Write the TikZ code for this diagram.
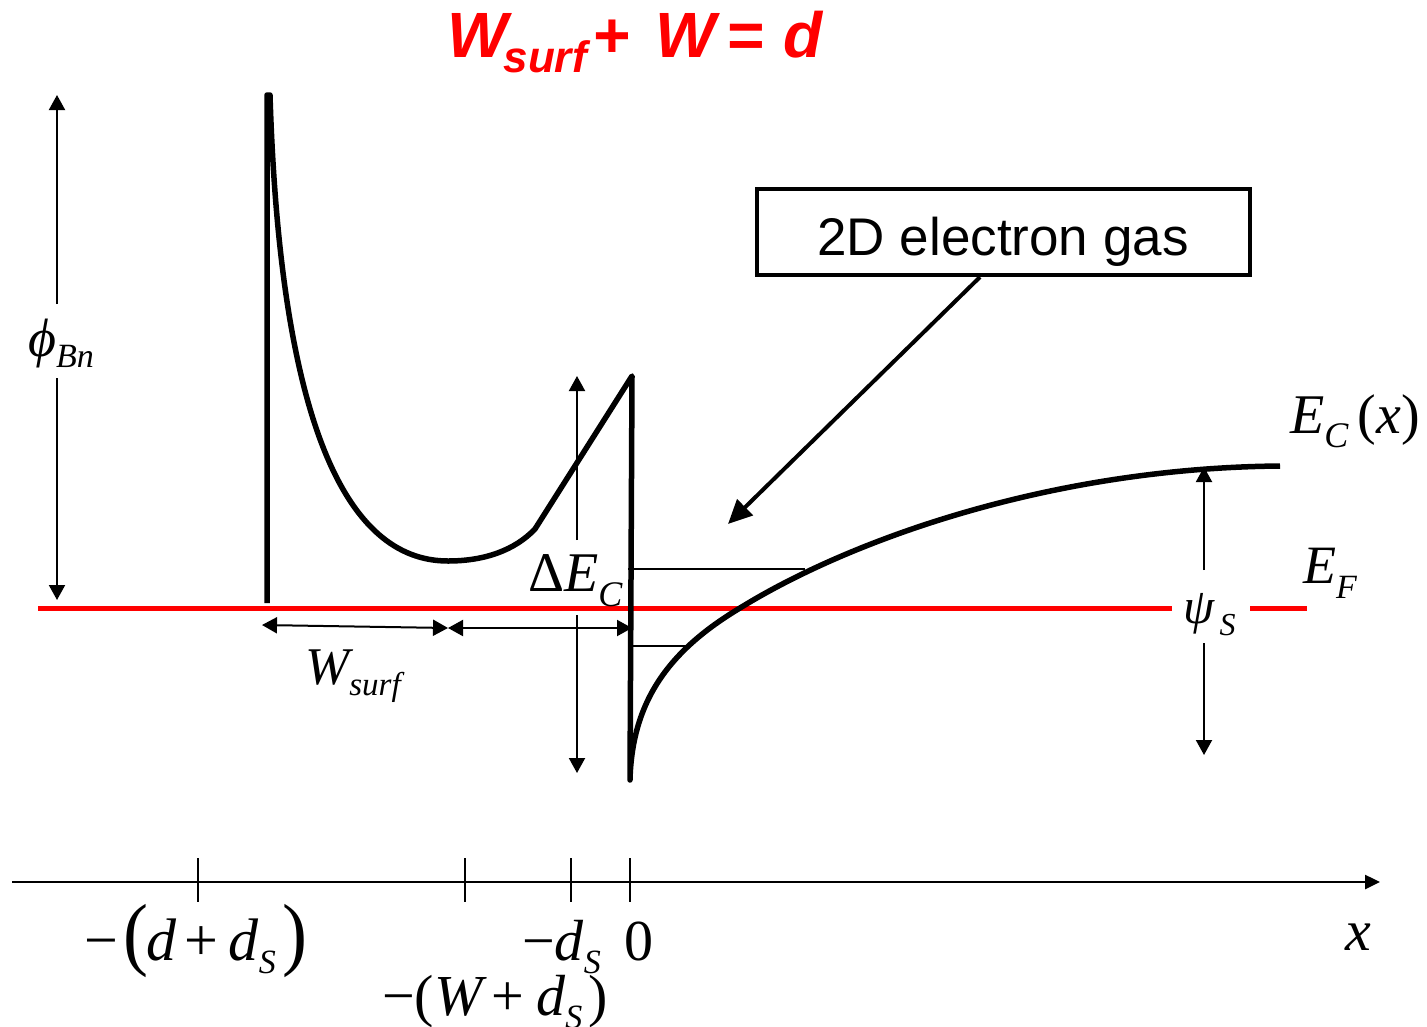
\documentclass[tikz,border=0pt]{standalone}
\usepackage{fontspec}
\setmainfont{Liberation Serif}
\newfontfamily\arial{Liberation Sans}
\usetikzlibrary{arrows.meta}
\newcommand\fs[1]{\fontsize{#1}{#1}\selectfont}
\begin{document}
\begin{tikzpicture}[x=1pt,y=-1pt,
  band/.style={line width=5.5pt, line join=round},
  thinline/.style={line width=2pt},
  dimarrow/.style={line width=2pt, -{Triangle[length=15pt,width=16pt]}},
  ddimarrow/.style={line width=2pt, {Triangle[length=15pt,width=16pt]}-{Triangle[length=15pt,width=16pt]}},
  fermi/.style={red, line width=5pt},
  lbl/.style={inner sep=0pt, anchor=base west},
  tick/.style={line width=2pt},
]
\useasboundingbox (0,0) rectangle (1427,1026);

% title
\node[lbl, text=red] (title) at (447,57) {\arial\bfseries\itshape\fs{64}W\kern-4pt\raisebox{-15pt}{\fs{44}surf}\kern6pt+\kern25pt W\kern11pt=\kern20pt d};

% Fermi level
\coordinate (ef1) at (38,608);
\coordinate (ef2) at (1172,608);
\coordinate (ef3) at (1250,608);
\coordinate (ef4) at (1307,608);
\draw[fermi] (ef1) -- (ef2);
\draw[fermi] (ef3) -- (ef4);

% band edge
\coordinate (bb) at (267,603);
\coordinate (bt) at (267,95);
\coordinate (bmin) at (448,561);
\coordinate (bk) at (535,529);
\coordinate (peak) at (632,376);
\coordinate (well) at (630,780);
\coordinate (wmid) at (740,608);
\coordinate (bend) at (1280,466);
\draw[band] (bb) -- (bt) -- (270,95) .. controls (280,420) and (345,561) .. (bmin)
  .. controls (485,561) and (515,550) .. (bk) -- (peak) -- (well)
  .. controls (632,700) and (670,650) .. (wmid)
  .. controls (850,540) and (1050,468) .. (bend);

% subband levels
\coordinate (s1a) at (628,569);
\coordinate (s1b) at (805,569);
\coordinate (s2a) at (633,646);
\coordinate (s2b) at (690,646);
\draw[thinline] (s1a) -- (s1b);
\draw[thinline] (s2a) -- (s2b);

% phi_Bn
\coordinate (phiT) at (57,95);
\coordinate (phiB) at (57,600);
\coordinate (phiG1) at (57,304);
\coordinate (phiG2) at (57,378);
\draw[dimarrow] (phiG1) -- (phiT);
\draw[dimarrow] (phiG2) -- (phiB);
\node[lbl] (phiL) at (28,356) {\fs{54}\itshape ϕ\raisebox{-11pt}{\fs{34}Bn}};

% Delta E_C
\coordinate (dT) at (577,376);
\coordinate (dB) at (577,773);
\coordinate (dG1) at (577,540);
\coordinate (dG2) at (577,615);
\draw[dimarrow] (dG1) -- (dT);
\draw[dimarrow] (dG2) -- (dB);
\node[lbl] (dL) at (528,591) {\fs{56}Δ\itshape E\raisebox{-15pt}{\fs{36}C}};

% W_surf arrows
\coordinate (w1) at (262,625);
\coordinate (w2) at (448,628);
\coordinate (w3) at (632,628);
\draw[ddimarrow] (w1) -- (w2);
\draw[ddimarrow] (w2) -- (w3);
\node[lbl] (wL) at (305,684) {\fs{53}\itshape W\raisebox{-11pt}{\fs{33}surf}};

% psi_S
\coordinate (pT) at (1204,467);
\coordinate (pB) at (1204,755);
\coordinate (pG1) at (1204,570);
\coordinate (pG2) at (1204,643);
\draw[dimarrow] (pG1) -- (pT);
\draw[dimarrow] (pG2) -- (pB);
\node[lbl] (psiL) at (1183,623) {\fs{50}\itshape ψ\raisebox{-12pt}{\fs{32}\,S}};

% E_C(x), E_F
\node[lbl] (ecL) at (1290,433) {\fs{56}\itshape E\raisebox{-14pt}{\fs{36}C}\upshape\,(\itshape x\upshape)};
\node[lbl] (efL) at (1303,583) {\fs{54}\itshape E\raisebox{-15pt}{\fs{34}F}};

% 2DEG box and arrow
\node[draw, line width=4pt, minimum width=493pt, minimum height=86pt, inner sep=0pt] (box) at (1003.5,232) {};
\node[inner sep=0pt, anchor=base] (boxT) at (1003,255) {\arial\fs{53}2D electron gas};
\coordinate (aS) at (980,277);
\coordinate (aE) at (728,524);
\draw[line width=4pt, -{Triangle[length=24pt,width=22pt]}] (aS) -- (aE);

% x axis
\coordinate (ax1) at (12,882);
\coordinate (ax2) at (1380,882);
\draw[line width=2.5pt, -{Triangle[length=15pt,width=14pt]}] (ax1) -- (ax2);
\foreach \t/\n in {198/ta,465/tb,571/tc,630/td}{
  \coordinate (\n1) at (\t,858);
  \coordinate (\n2) at (\t,902);
  \draw[tick] (\n1) -- (\n2);
}
\node[lbl] (l1) at (84,960) {\fs{60}−\kern5pt\scalebox{1.25}[1.35]{(}\kern-2pt\itshape d\upshape\kern8pt+\kern11pt\itshape d\raisebox{-13pt}{\fs{34}S}\upshape\kern7pt\scalebox{1.25}[1.35]{)}};
\node[lbl] (l2) at (522,960) {\fs{58}−\itshape d\raisebox{-13pt}{\fs{34}S}};
\node[lbl] (l3) at (624,960) {\fs{58}0};
\node[lbl] (l4) at (382,1015) {\fs{58}−(\itshape W\upshape\kern9pt+\kern12pt\itshape d\raisebox{-13pt}{\fs{34}S}\upshape\kern6pt)};
\node[lbl] (lx) at (1345,950) {\fs{58}\itshape x};
\end{tikzpicture}
\end{document}
